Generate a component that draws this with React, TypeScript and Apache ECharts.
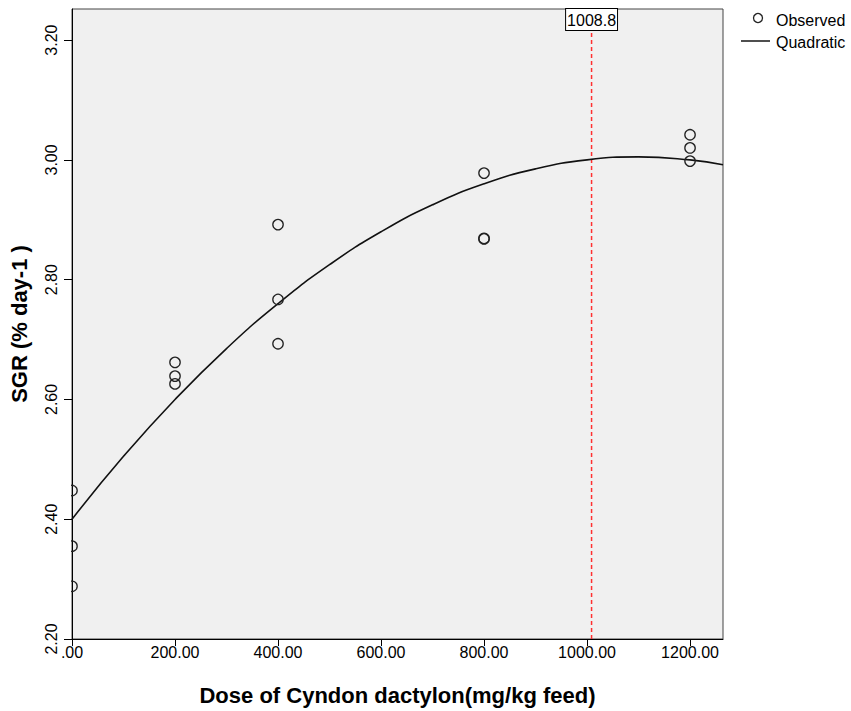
import React, { useEffect, useRef } from "react";
import * as echarts from "echarts";

// Observed SGR values by dose (mg/kg feed)
const observedDose = [0, 0, 0, 200, 200, 200, 400, 400, 400, 800, 800, 800, 1200, 1200, 1200];
const observedSGR = [2.448, 2.355, 2.288, 2.662, 2.639, 2.626, 2.892, 2.767, 2.693, 2.978, 2.869, 2.868, 3.042, 3.02, 2.998];

// Quadratic fit curve
const curveDose = [0, 100, 200, 300, 400, 500, 600, 700, 800, 900, 1000, 1100, 1200, 1264];
const curveSGR = [2.4, 2.505, 2.6, 2.685, 2.76, 2.825, 2.88, 2.925, 2.96, 2.985, 3.0, 3.005, 3.0, 2.992];

const optimumDose = 1008.8;
const optimumLabel = "1008.8";

const xMin = 0;
const xMax = 1264;
const xInterval = 200;
const yMin = 2.2;
const yMax = 3.252;
const yInterval = 0.2;

const xTitle = "Dose of Cyndon dactylon(mg/kg feed)";
const yTitle = "SGR (% day-1 )";
const legendNames = ["Observed", "Quadratic"];

const FONT = "Arial, 'Liberation Sans', sans-serif";
const RED = "#ff3030";

export default function App() {
  const ref = useRef<HTMLDivElement>(null);

  useEffect(() => {
    if (!ref.current) return;
    const chart = echarts.init(ref.current, undefined, { renderer: "svg" });
    const scatterData = observedDose.map((d, i) => [d, observedSGR[i]]);
    const curveData = curveDose.map((d, i) => [d, curveSGR[i]]);

    chart.setOption({
      animation: false,
      backgroundColor: "#ffffff",
      textStyle: { fontFamily: FONT },
      grid: {
        left: 71,
        right: 128,
        top: 9,
        bottom: 72,
        show: true,
        backgroundColor: "#f0f0f0",
        borderColor: "#444",
        borderWidth: 1,
      },
      xAxis: {
        type: "value",
        min: xMin,
        max: xMax,
        interval: xInterval,
        name: xTitle,
        nameLocation: "middle",
        nameGap: 45,
        nameTextStyle: { fontFamily: FONT, fontWeight: "bold", fontSize: 22, color: "#000" },
        axisLine: { show: true, onZero: false, lineStyle: { color: "#000", width: 1 } },
        axisTick: { show: true, length: 7, lineStyle: { color: "#000" } },
        axisLabel: {
          color: "#000",
          fontSize: 16,
          margin: 5,
          showMaxLabel: false,
          formatter: (v: number) => (v === 0 ? ".00" : v.toFixed(2)),
        },
        splitLine: { show: false },
      },
      yAxis: {
        type: "value",
        min: yMin,
        max: yMax,
        interval: yInterval,
        name: yTitle,
        nameLocation: "middle",
        nameGap: 42,
        nameRotate: 90,
        nameTextStyle: { fontFamily: FONT, fontWeight: "bold", fontSize: 22, color: "#000" },
        axisLine: { show: true, onZero: false, lineStyle: { color: "#000", width: 1 } },
        axisTick: { show: true, length: 8, lineStyle: { color: "#000" } },
        axisLabel: {
          color: "#000",
          fontSize: 16,
          rotate: 90,
          margin: 13,
          showMaxLabel: false,
          formatter: (v: number) => v.toFixed(2),
        },
        splitLine: { show: false },
      },
      series: [
        {
          name: "optimum",
          type: "line",
          data: [
            [optimumDose, yMin],
            {
              value: [optimumDose, yMax],
              label: {
                show: true,
                position: "bottom",
                distance: 0,
                formatter: optimumLabel,
                color: "#000",
                fontSize: 16,
                fontFamily: FONT,
                backgroundColor: "#ffffff",
                borderColor: "#000",
                borderWidth: 1,
                padding: [3, 1, 2, 1],
              },
            },
          ],
          showSymbol: true,
          symbol: "circle",
          symbolSize: 0,
          clip: false,
          silent: true,
          itemStyle: { color: RED },
          lineStyle: { color: RED, type: [4, 3], width: 1.5 },
          z: 1,
        },
        {
          name: legendNames[0],
          type: "custom",
          data: scatterData,
          clip: true,
          silent: true,
          renderItem: (_params: any, api: any) => {
            const p = api.coord([api.value(0), api.value(1)]);
            return {
              type: "circle",
              shape: { cx: p[0], cy: p[1], r: 5.2 },
              style: { fill: "none", stroke: "#222", lineWidth: 1.3 },
            };
          },
          z: 3,
        },
        {
          name: legendNames[1],
          type: "line",
          data: curveData,
          smooth: true,
          showSymbol: false,
          clip: true,
          lineStyle: { color: "#111", width: 1.6 },
          z: 2,
        },
      ],
      graphic: [
        {
          type: "circle",
          shape: { cx: 758, cy: 18, r: 4.5 },
          style: { fill: "none", stroke: "#222", lineWidth: 1.3 },
        },
        {
          type: "text",
          x: 776,
          y: 20,
          style: { text: legendNames[0], fill: "#000", font: `16px ${FONT}`, verticalAlign: "middle" },
        },
        {
          type: "line",
          shape: { x1: 741, y1: 41, x2: 770, y2: 41 },
          style: { stroke: "#222", lineWidth: 1.6 },
        },
        {
          type: "text",
          x: 776,
          y: 42,
          style: { text: legendNames[1], fill: "#000", font: `16px ${FONT}`, verticalAlign: "middle" },
        },
      ],
    });

    return () => chart.dispose();
  }, []);

  return <div ref={ref} style={{ width: 851, height: 711, position: "absolute", left: 0, top: 0 }} />;
}
